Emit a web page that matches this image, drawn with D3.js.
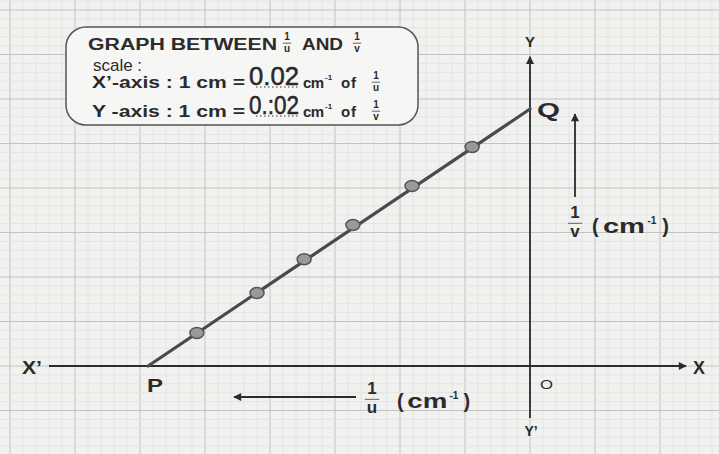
<html>
<head>
<script src="https://cdn.jsdelivr.net/npm/d3@7"></script>
<style>
  body { margin: 0; background: #f1f1ef; }
  text { font-family: "Liberation Sans", Arial, sans-serif; fill: #2b2b2b; }
</style>
</head>
<body>
<div id="chart"></div>
<script>
// values (cm^-1), 1 cm on paper = 0.02 cm^-1
const invU = [-0.1025, -0.084, -0.0695, -0.0545, -0.0363, -0.0178];
const invV = [0.0148, 0.0328, 0.048, 0.0634, 0.0809, 0.0984];
const pointP = [-0.1175, 0];   // x intercept
const pointQ = [0, 0.1155];    // y intercept
const scaleText = ["0.02", "0.:02"];

const W = 719, H = 454;
const svg = d3.select("#chart").append("svg")
  .attr("width", W).attr("height", H);

// paper scale: 65px per 0.02 across, 44.5px per 0.02 down
const x = d3.scaleLinear().domain([-0.16308, 0.05815]).range([0, W]);
const y = d3.scaleLinear().domain([-0.03955, 0.16449]).range([H, 0]);

svg.append("rect").attr("width", W).attr("height", H).attr("fill", "#f1f1ef");

// graph paper grid, minor every 0.004, major every 0.02
const gx = d3.range(-41, 15).map(i => i * 0.004);
const gy = d3.range(-10, 42).map(i => i * 0.004);
const isMajor = d => Math.round(d / 0.004) % 5 === 0;
const grid = svg.append("g");
grid.selectAll(".vx").data(gx).join("line")
  .attr("x1", d => x(d)).attr("x2", d => x(d)).attr("y1", 0).attr("y2", H)
  .attr("stroke", d => isMajor(d) ? "#c2c2c0" : "#e4e4e2")
  .attr("stroke-width", 1);
grid.selectAll(".hy").data(gy).join("line")
  .attr("y1", d => y(d)).attr("y2", d => y(d)).attr("x1", 0).attr("x2", W)
  .attr("stroke", d => isMajor(d) ? "#c2c2c0" : "#e4e4e2")
  .attr("stroke-width", 1);

// arrow head marker
svg.append("defs").append("marker")
  .attr("id", "arr").attr("viewBox", "0 0 10 10").attr("refX", 9).attr("refY", 5)
  .attr("markerWidth", 9).attr("markerHeight", 8).attr("orient", "auto-start-reverse")
  .attr("markerUnits", "userSpaceOnUse")
  .append("path").attr("d", "M0,0 L10,5 L0,10 z").attr("fill", "#2b2b2b");

// axes
svg.append("line")
  .attr("x1", x(-0.148)).attr("x2", x(0.048)).attr("y1", y(0)).attr("y2", y(0))
  .attr("stroke", "#2b2b2b").attr("stroke-width", 1.8).attr("marker-end", "url(#arr)");
svg.append("line")
  .attr("x1", x(0)).attr("x2", x(0)).attr("y1", y(-0.0234)).attr("y2", y(0.139))
  .attr("stroke", "#2b2b2b").attr("stroke-width", 1.8).attr("marker-end", "url(#arr)");

// best-fit line P -> Q and observed points
svg.append("line")
  .attr("x1", x(pointP[0])).attr("y1", y(pointP[1]))
  .attr("x2", x(pointQ[0])).attr("y2", y(pointQ[1]))
  .attr("stroke", "#4a4a4a").attr("stroke-width", 3.2).attr("stroke-linecap", "round");
svg.selectAll(".pt").data(invU).join("ellipse")
  .attr("cx", d => x(d)).attr("cy", (d, i) => y(invV[i]))
  .attr("rx", 7).attr("ry", 5.5)
  .attr("fill", "#999").attr("stroke", "#555").attr("stroke-width", 1.5);

// labels
function label(t, px, py, size, weight, anchor) {
  return svg.append("text").attr("x", px).attr("y", py)
    .attr("font-size", size).attr("font-weight", weight || "bold")
    .attr("text-anchor", anchor || "start").text(t);
}
// small "1 over den" fraction, top = top of the numeral
function fraction(den, cx, top, size) {
  const b1 = top + size * 0.72;
  label("1", cx, b1, size, "bold", "middle");
  svg.append("line").attr("x1", cx - size * 0.42).attr("x2", cx + size * 0.42)
    .attr("y1", b1 + size * 0.3).attr("y2", b1 + size * 0.3)
    .attr("stroke", "#666").attr("stroke-width", 1);
  label(den, cx, b1 + size * 1.13, size, "bold", "middle");
}
// "(cm-1)" unit with superscript
function unit(px, base, size, width) {
  label("(", px, base, size);
  label("cm", px + width * 0.14, base, size).attr("textLength", width * 0.54).attr("lengthAdjust", "spacingAndGlyphs");
  label("-1", px + width * 0.71, base - size * 0.45, size * 0.5);
  label(")", px + width * 0.9, base, size);
}

label("X\u2019", 22, 374, 18).attr("textLength", 20).attr("lengthAdjust", "spacingAndGlyphs");
label("X", 693, 374, 18);
label("Y", x(0), 47, 15, "bold", "middle");
label("Y\u2019", x(0) + 1, 436, 14, "bold", "middle");
label("O", 540, 389, 13, "normal").attr("textLength", 13).attr("lengthAdjust", "spacingAndGlyphs");
label("P", 147, 392, 19).attr("textLength", 16).attr("lengthAdjust", "spacingAndGlyphs");
label("Q", 537, 117, 21).attr("textLength", 23).attr("lengthAdjust", "spacingAndGlyphs");

// 1/v direction
svg.append("line").attr("x1", 575).attr("x2", 575).attr("y1", 197).attr("y2", 114)
  .attr("stroke", "#2b2b2b").attr("stroke-width", 1.8).attr("marker-end", "url(#arr)");
fraction("v", 575, 206, 17);
unit(592, 233, 20, 78);

// 1/u direction
svg.append("line").attr("x1", 356).attr("x2", 234).attr("y1", 397).attr("y2", 397)
  .attr("stroke", "#2b2b2b").attr("stroke-width", 1.8).attr("marker-end", "url(#arr)");
fraction("u", 372, 382, 17);
unit(397, 408, 20, 74);

// title box
svg.append("rect").attr("x", 66).attr("y", 27).attr("width", 352).attr("height", 98)
  .attr("rx", 20).attr("fill", "#f6f6f4").attr("stroke", "#555").attr("stroke-width", 1.5);

label("GRAPH BETWEEN", 88, 50, 16).attr("textLength", 189).attr("lengthAdjust", "spacingAndGlyphs").attr("fill", "#3a3a3a");
fraction("u", 287, 33, 10);
label("AND", 302, 50, 16).attr("textLength", 41).attr("lengthAdjust", "spacingAndGlyphs").attr("fill", "#3a3a3a");
fraction("v", 357, 33, 10);
label("scale :", 93, 71, 17, "normal").attr("textLength", 49).attr("fill", "#444");

const rows = [
  { lab: "X\u2019-axis : 1 cm =", den: "u", base: 88, val: scaleText[0] },
  { lab: "Y -axis : 1 cm =", den: "v", base: 117, val: scaleText[1] }
];
rows.forEach(r => {
  label(r.lab, 92, r.base, 16).attr("textLength", 153).attr("lengthAdjust", "spacingAndGlyphs").attr("fill", "#3a3a3a");
  svg.append("line").attr("x1", 256).attr("x2", 300).attr("y1", r.base - 1).attr("y2", r.base - 1)
    .attr("stroke", "#777").attr("stroke-width", 1.4).attr("stroke-dasharray", "1.5,2.5");
  label(r.val, 249, r.base - 3, 25, "normal")
    .attr("font-family", "DejaVu Sans").attr("textLength", 50).attr("lengthAdjust", "spacingAndGlyphs")
    .attr("stroke", "#222").attr("stroke-width", 0.5);
  label("cm", 303, r.base, 15).attr("textLength", 21).attr("fill", "#3a3a3a");
  label("-1", 325, r.base - 8, 8).attr("fill", "#3a3a3a");
  label("of", 341, r.base, 15).attr("textLength", 15).attr("fill", "#3a3a3a");
  fraction(r.den, 376, r.base - 16, 10);
});
</script>
</body>
</html>
